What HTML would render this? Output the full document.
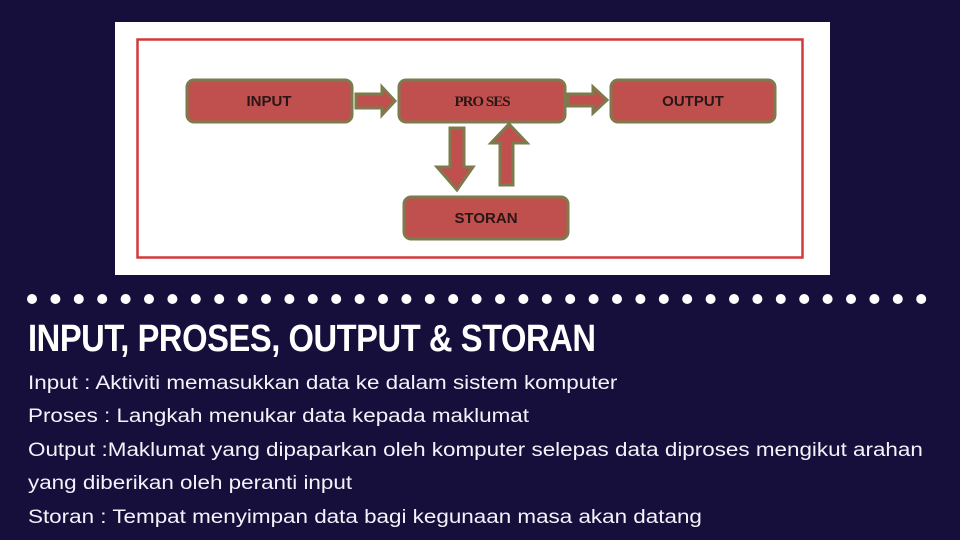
<!DOCTYPE html>
<html><head><meta charset="utf-8"><style>
html,body{margin:0;padding:0;}
body{width:960px;height:540px;background:#160e3b;position:relative;overflow:hidden;font-family:"Liberation Sans",sans-serif;}
.panel{position:absolute;left:115px;top:22px;width:715px;height:253px;background:#fff;}
.title{position:absolute;left:28px;top:318px;color:#fff;font-family:"Liberation Sans Narrow","Liberation Sans",sans-serif;font-weight:bold;font-size:38px;letter-spacing:-0.5px;transform:scaleX(0.86);transform-origin:left;white-space:nowrap;}
.line{position:absolute;left:28px;color:#f4f2fa;font-size:19px;white-space:nowrap;font-family:"Liberation Sans Narrow","Liberation Sans",sans-serif;transform:scaleX(1.18);transform-origin:left;}
</style></head><body>
<div class="panel"></div>
<svg width="960" height="540" style="position:absolute;left:0;top:0">
<rect x="137.5" y="39.5" width="665" height="218" fill="none" stroke="#d23a3a" stroke-width="2.5"/>
<g fill="#c0504d" stroke="#7f7a4e" stroke-width="3">
<rect x="187" y="80" width="165" height="42" rx="7"/>
<rect x="399" y="80" width="166" height="42" rx="7"/>
<rect x="611" y="80" width="164" height="42" rx="7"/>
<rect x="404" y="197" width="164" height="42" rx="7"/>
<polygon points="356,94 382,94 382,87 395,101 382,115 382,108 356,108"/>
<polygon points="568,94 593,94 593,87 607,100 593,113 593,106 568,106"/>
<polygon points="450,128 464,128 464,167 473,167 457,190 437,167 450,167"/>
<polygon points="500,185 513,185 513,143 527,143 509,124 491,143 500,143"/>
</g>
<g font-family="Liberation Sans Narrow, Liberation Sans, sans-serif" font-weight="bold" font-size="15" fill="#2a1616" text-anchor="middle">
<text x="269" y="106">INPUT</text>
<text x="482" y="106" font-family="Liberation Serif, serif" letter-spacing="-1">PRO SES</text>
<text x="693" y="106">OUTPUT</text>
<text x="486" y="223">STORAN</text>
</g>
<g fill="#fff">
<circle cx="32" cy="299" r="5"/><circle cx="55.4" cy="299" r="5"/><circle cx="78.8" cy="299" r="5"/><circle cx="102.2" cy="299" r="5"/><circle cx="125.6" cy="299" r="5"/><circle cx="149" cy="299" r="5"/><circle cx="172.4" cy="299" r="5"/><circle cx="195.8" cy="299" r="5"/><circle cx="219.2" cy="299" r="5"/><circle cx="242.6" cy="299" r="5"/><circle cx="266" cy="299" r="5"/><circle cx="289.4" cy="299" r="5"/><circle cx="312.8" cy="299" r="5"/><circle cx="336.2" cy="299" r="5"/><circle cx="359.6" cy="299" r="5"/><circle cx="383" cy="299" r="5"/><circle cx="406.4" cy="299" r="5"/><circle cx="429.8" cy="299" r="5"/><circle cx="453.2" cy="299" r="5"/><circle cx="476.6" cy="299" r="5"/><circle cx="500" cy="299" r="5"/><circle cx="523.4" cy="299" r="5"/><circle cx="546.8" cy="299" r="5"/><circle cx="570.2" cy="299" r="5"/><circle cx="593.6" cy="299" r="5"/><circle cx="617" cy="299" r="5"/><circle cx="640.4" cy="299" r="5"/><circle cx="663.8" cy="299" r="5"/><circle cx="687.2" cy="299" r="5"/><circle cx="710.6" cy="299" r="5"/><circle cx="734" cy="299" r="5"/><circle cx="757.4" cy="299" r="5"/><circle cx="780.8" cy="299" r="5"/><circle cx="804.2" cy="299" r="5"/><circle cx="827.6" cy="299" r="5"/><circle cx="851" cy="299" r="5"/><circle cx="874.4" cy="299" r="5"/><circle cx="897.8" cy="299" r="5"/><circle cx="921.2" cy="299" r="5"/>
</g>
</svg>
<div class="title">INPUT, PROSES, OUTPUT &amp; STORAN</div>
<div class="line" style="top:373px">Input : Aktiviti memasukkan data ke dalam sistem komputer</div>
<div class="line" style="top:406px">Proses : Langkah menukar data kepada maklumat</div>
<div class="line" style="top:440px">Output :Maklumat yang dipaparkan oleh komputer selepas data diproses mengikut arahan</div>
<div class="line" style="top:473px">yang diberikan oleh peranti input</div>
<div class="line" style="top:507px">Storan : Tempat menyimpan data bagi kegunaan masa akan datang</div>
</body></html>
